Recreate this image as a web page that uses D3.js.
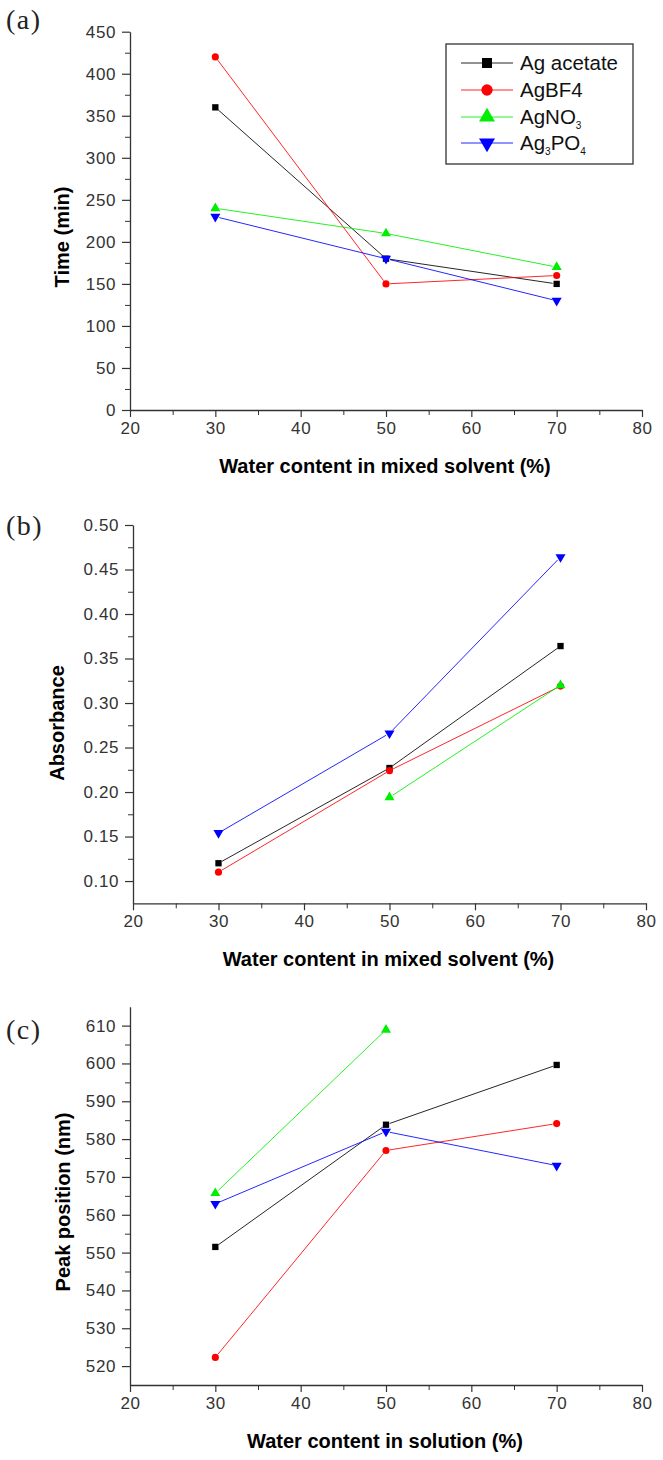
<!DOCTYPE html>
<html><head><meta charset="utf-8">
<script src="https://cdn.jsdelivr.net/npm/d3@7"></script>
<style>
html,body{margin:0;padding:0;background:#fff;}
svg{display:block;}
</style></head>
<body>
<svg id="chart" width="663" height="1460"></svg>
<script>
// ---------- data ----------
const xValues = [30, 50, 70];
const seriesNames = ["Ag acetate", "AgBF4", "AgNO3", "Ag3PO4"];
const seriesColors = ["#000000", "#ff0000", "#00ee00", "#0000ff"];
const xTicks = [20, 30, 40, 50, 60, 70, 80];

// panel (a) Time (min)
const timeAgAcetate = [360, 180, 150];
const timeAgBF4 = [420, 150, 160];
const timeAgNO3 = [240, 210, 170];
const timeAg3PO4 = [230, 180, 130];
const timeTicks = [0, 50, 100, 150, 200, 250, 300, 350, 400, 450];

// panel (b) Absorbance
const absAgAcetate = [0.120, 0.227, 0.364];
const absAgBF4 = [0.110, 0.224, 0.319];
const absAgNO3 = [null, 0.194, 0.320];
const absAg3PO4 = [0.154, 0.266, 0.464];
const absTicks = [0.10, 0.15, 0.20, 0.25, 0.30, 0.35, 0.40, 0.45, 0.50];

// panel (c) Peak position (nm)
const peakAgAcetate = [551.5, 583.8, 599.6];
const peakAgBF4 = [522.3, 577.0, 584.1];
const peakAgNO3 = [565.7, 608.9, null];
const peakAg3PO4 = [562.9, 582.0, 573.0];
const peakTicks = [520, 530, 540, 550, 560, 570, 580, 590, 600, 610];

// ---------- drawing ----------
const svg = d3.select("#chart");
const symbolTypes = [d3.symbolSquare, d3.symbolCircle, d3.symbolTriangle, d3.symbolTriangle];
const symbolRot = [0, 0, 0, 180];

function drawPanel(cfg) {
  const g = svg.append("g");
  const x = d3.scaleLinear().domain([20, 80]).range(cfg.xr);
  const y = d3.scaleLinear().domain(cfg.yd).range(cfg.yr);
  const axisColor = "#333";

  // minor ticks
  const xMinor = d3.range(25, 80, 10);
  g.append("g").attr("transform", `translate(0,${cfg.yr[0]})`)
    .call(d3.axisBottom(x).tickValues(xMinor).tickSize(5).tickFormat(""))
    .call(s => s.select(".domain").remove())
    .selectAll("line").attr("stroke", axisColor).attr("stroke-width", 1);
  g.append("g").attr("transform", `translate(${cfg.xr[0]},0)`)
    .call(d3.axisLeft(y).tickValues(cfg.yMinor).tickSize(5).tickFormat(""))
    .call(s => s.select(".domain").remove())
    .selectAll("line").attr("stroke", axisColor).attr("stroke-width", 1);

  // major axes
  const xa = g.append("g").attr("transform", `translate(0,${cfg.yr[0]})`)
    .call(d3.axisBottom(x).tickValues(xTicks).tickSize(7).tickSizeOuter(0).tickPadding(5));
  const ya = g.append("g").attr("transform", `translate(${cfg.xr[0]},0)`)
    .call(d3.axisLeft(y).tickValues(cfg.yTicks).tickSize(8).tickSizeOuter(0).tickPadding(6).tickFormat(cfg.fmt));
  [xa, ya].forEach(a => {
    a.select(".domain").attr("stroke", axisColor).attr("stroke-width", 1.3);
    a.selectAll("line").attr("stroke", axisColor).attr("stroke-width", 1.2);
    a.selectAll("text").attr("fill", "#333").style("font-family", "'Liberation Sans', Arial, sans-serif")
      .style("font-size", "17px").style("letter-spacing", "0.6px");
  });

  // axis titles
  g.append("text").attr("x", (cfg.xr[0] + cfg.xr[1]) / 2 - 1).attr("y", cfg.xTitleY)
    .attr("text-anchor", "middle").attr("fill", "#000")
    .style("font-family", "'Liberation Sans', Arial, sans-serif").style("font-weight", "bold").style("font-size", "20px")
    .text(cfg.xTitle);
  g.append("text").attr("transform", `translate(${cfg.yTitleX},${cfg.yTitleCY}) rotate(-90)`)
    .attr("text-anchor", "middle").attr("fill", "#000")
    .style("font-family", "'Liberation Sans', Arial, sans-serif").style("font-weight", "bold").style("font-size", "20px")
    .text(cfg.yTitle);

  // panel label
  g.append("text").attr("x", 6).attr("y", cfg.labelY)
    .style("font-family", "'Liberation Serif', 'Times New Roman', serif").style("font-size", "28px")
    .style("letter-spacing", "1.5px")
    .attr("fill", "#222").text(cfg.label);

  // series
  cfg.series.forEach((vals, i) => {
    const pts = xValues.map((xv, k) => ({ x: xv, y: vals[k] })).filter(p => p.y !== null);
    const gap = 4;
    for (let k = 0; k < pts.length - 1; k++) {
      const x1 = x(pts[k].x), y1 = y(pts[k].y), x2 = x(pts[k + 1].x), y2 = y(pts[k + 1].y);
      const L = Math.hypot(x2 - x1, y2 - y1), ux = (x2 - x1) / L, uy = (y2 - y1) / L;
      g.append("line").attr("x1", x1 + ux * gap).attr("y1", y1 + uy * gap)
        .attr("x2", x2 - ux * gap).attr("y2", y2 - uy * gap)
        .attr("stroke", seriesColors[i]).attr("stroke-width", 1).attr("stroke-opacity", 0.85);
    }
    g.selectAll(null).data(pts).enter().append("path")
      .attr("d", d3.symbol().type(symbolTypes[i]).size(i >= 2 ? 44 : 40))
      .attr("transform", p => `translate(${x(p.x)},${y(p.y)}) rotate(${symbolRot[i]})`)
      .attr("fill", seriesColors[i]);
  });
  return g;
}

drawPanel({
  xr: [130, 642], yd: [0, 450], yr: [410, 31.7],
  yTicks: timeTicks, yMinor: d3.range(25, 450, 50), fmt: d3.format("d"),
  xTitle: "Water content in mixed solvent (%)", xTitleY: 473,
  yTitle: "Time (min)", yTitleX: 69, yTitleCY: 237,
  label: "(a)", labelY: 29,
  series: [timeAgAcetate, timeAgBF4, timeAgNO3, timeAg3PO4]
});
drawPanel({
  xr: [133, 646], yd: [0.075, 0.5], yr: [903.3, 525],
  yTicks: absTicks, yMinor: d3.range(0.125, 0.5, 0.05), fmt: d3.format(".2f"),
  xTitle: "Water content in mixed solvent (%)", xTitleY: 966,
  yTitle: "Absorbance", yTitleX: 64, yTitleCY: 723,
  label: "(b)", labelY: 535,
  series: [absAgAcetate, absAgBF4, absAgNO3, absAg3PO4]
});
drawPanel({
  xr: [130, 642], yd: [515, 615], yr: [1385, 1006.7],
  yTicks: peakTicks, yMinor: d3.range(525, 615, 10), fmt: d3.format("d"),
  xTitle: "Water content in solution (%)", xTitleY: 1448,
  yTitle: "Peak position (nm)", yTitleX: 70, yTitleCY: 1202,
  label: "(c)", labelY: 1039,
  series: [peakAgAcetate, peakAgBF4, peakAgNO3, peakAg3PO4]
});

// ---------- legend (panel a) ----------
const legend = svg.append("g");
legend.append("rect").attr("x", 446).attr("y", 44).attr("width", 187).attr("height", 120)
  .attr("fill", "#fff").attr("stroke", "#333").attr("stroke-width", 1.3);
const legendY = [63, 90, 117, 143];
seriesNames.forEach((name, i) => {
  const ly = legendY[i];
  legend.append("line").attr("x1", 461).attr("x2", 513).attr("y1", ly).attr("y2", ly)
    .attr("stroke", seriesColors[i]).attr("stroke-width", 1).attr("stroke-opacity", 0.85);
  legend.append("path").attr("d", d3.symbol().type(symbolTypes[i]).size(i >= 2 ? 110 : 100))
    .attr("transform", `translate(487,${ly}) rotate(${symbolRot[i]})`).attr("fill", seriesColors[i]);
  const t = legend.append("text").attr("x", 520).attr("y", ly + 7).attr("fill", "#111")
    .style("font-family", "'Liberation Sans', Arial, sans-serif").style("font-size", "20.5px");
  // subscripts for chemical formulas
  const parts = name === "AgNO3" ? [["AgNO", false], ["3", true]]
    : name === "Ag3PO4" ? [["Ag", false], ["3", true], ["PO", false], ["4", true]]
    : [[name, false]];
  let shifted = false;
  parts.forEach(([txt, sub]) => {
    let dy = null;
    if (sub && !shifted) { dy = 5; shifted = true; }
    else if (!sub && shifted) { dy = -5; shifted = false; }
    t.append("tspan").attr("dy", dy).style("font-size", sub ? "10px" : null).text(txt);
  });
});
</script>
</body></html>
